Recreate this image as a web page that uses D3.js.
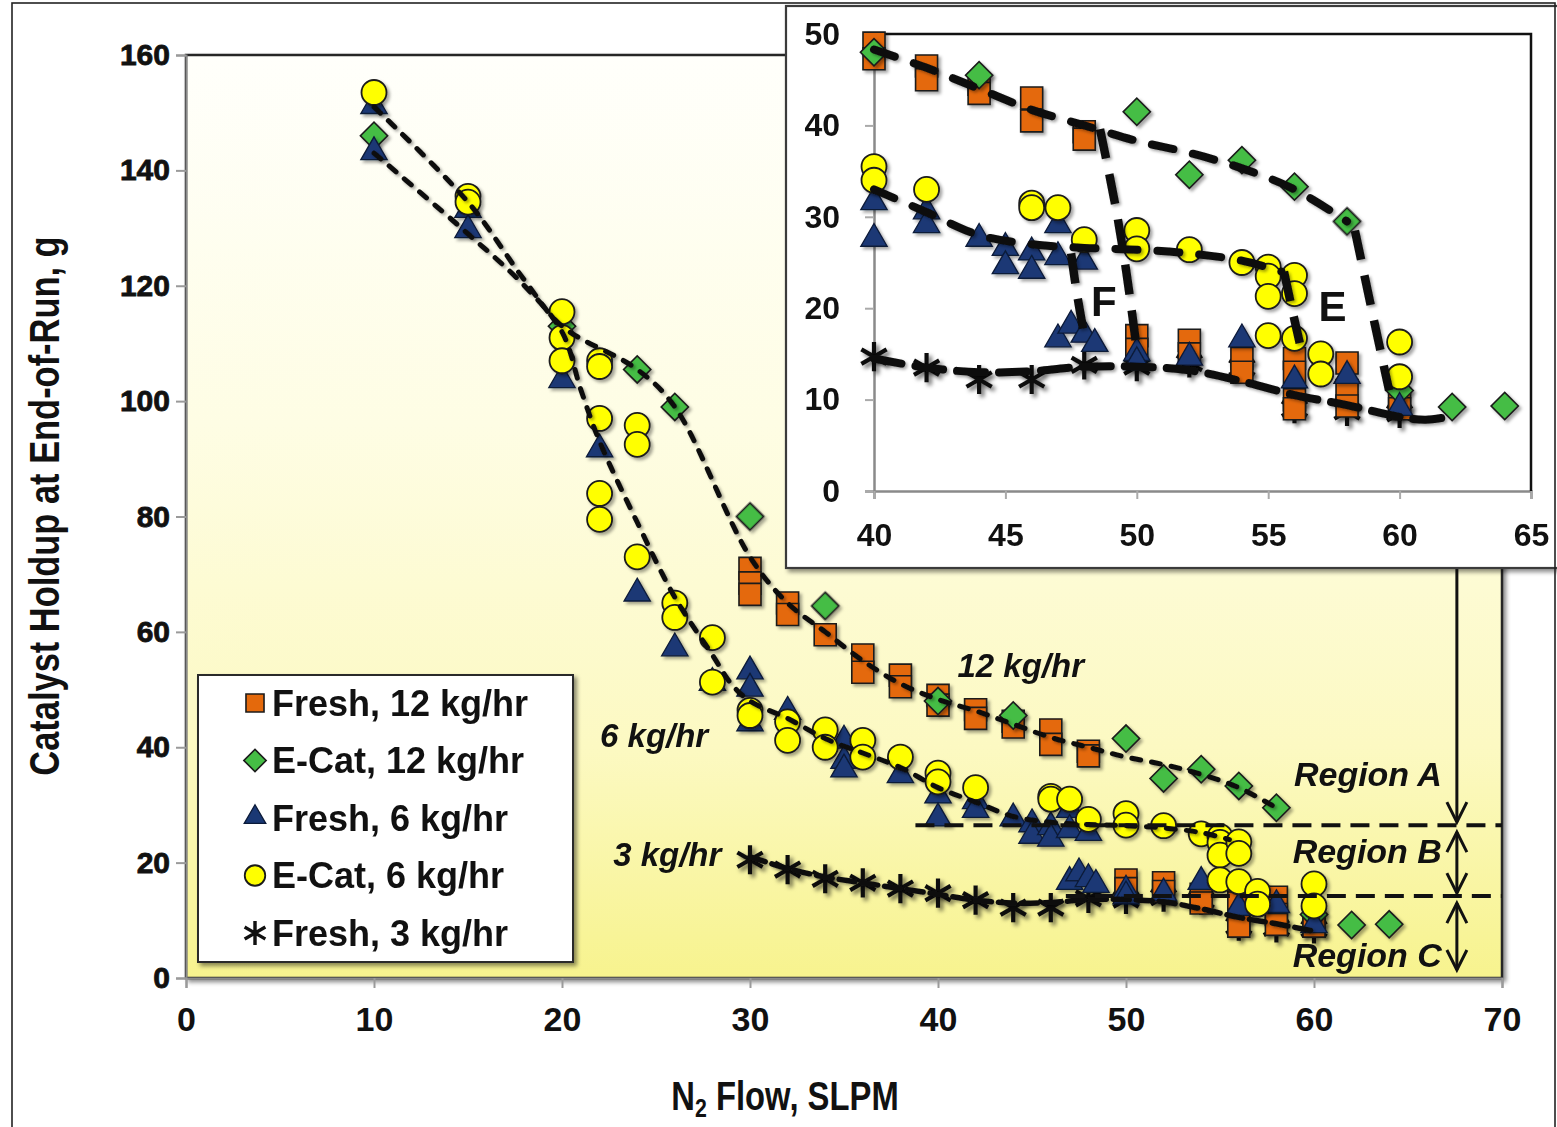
<!DOCTYPE html>
<html>
<head>
<meta charset="utf-8">
<script src="https://cdn.jsdelivr.net/npm/d3@7"></script>
<style>
  html, body { margin: 0; padding: 0; background: #fff; }
  svg { display: block; font-family: "Liberation Sans", Arial, Helvetica, sans-serif; }
</style>
</head>
<body>
<svg id="chart" width="1557" height="1127"></svg>
<script>
// ---- measured holdup, [N2 flow (SLPM), catalyst holdup (g)] ----
const fresh12 = [
  [30,71],[30,68.5],[30,66.5],[32,65],[32,63],[34,59.5],[36,56],[36,53],[38,52.5],[38,50.5],
  [40,49],[40,47.3],[42,46.5],[42,45],[44,44.5],[44,43.5],[46,43],[46,40.5],[48,39.3],[48,38.5],
  [50,17],[50,15.5],[52,16.5],[52,15],[54,14.5],[54,13],[56,14.5],[56,13],[56,10],[56,9],
  [58,14],[58,11],[58,9.3],[60,10],[60,9]
];
const ecat12 = [
  [10,146],[20,113],[24,105.5],[26,99],[30,80],[34,64.5],[40,48],[44,45.5],[50,41.5],
  [52,34.6],[54,36.2],[56,33.3],[58,29.5],[60,11],[62,9.2],[64,9.3]
];
const fresh6 = [
  [10,151],[10,143],[15,133],[15,129.5],[20,103.5],[22,91.5],[24,66.5],[26,57],[28,51],
  [30,53],[30,50],[30,44],[32,46],[35,41],[35,37.5],[35,36],[38,35],[40,31.5],[40,27.5],
  [42,30.5],[42,29],[44,27.5],[45,26.5],[45,24.5],[46,26],[46,24],[47,29],[47,25.5],
  [47,16.5],[47.5,18],[48,25],[48,17],[48.4,16],[50,15],[50,14],[52,14.5],[54,16.5],
  [56,12],[58,12.5],[60,9]
];
const ecat6 = [
  [10,153.5],[15,135.5],[15,134.5],[20,115.5],[20,111],[20,107],[22,107],[22,106],[22,97],
  [22,84],[22,79.5],[24,95.8],[24,92.5],[24,73],[26,65],[26,62.5],[28,59],[28,51.3],
  [30,46.4],[30,45.5],[32,44.4],[32,41.2],[34,43],[34,40],[36,41.2],[36,38.3],[38,38.3],
  [40,35.5],[40,34],[42,33],[46,31.5],[46,31],[47,31],[48,27.5],[50,28.5],[50,26.5],
  [52,26.4],[54,25],[55,24.5],[55,23.5],[55,21.3],[55,17],[56,23.6],[56,21.6],[56,16.7],
  [57,15],[57,12.8],[60,16.3],[60,12.5]
];
const fresh3 = [
  [30,20.5],[32,18.8],[34,17.2],[36,16.5],[38,15.5],[40,14.7],[42,13.5],[44,12.2],[46,12.2],
  [48,13.8],[50,13.6],[52,14],[54,13.5],[56,9],[58,8.7],[60,8.5]
];

// ---- hand-fitted trend curves ----
const trend12 = [
  [10,151],[15,134.5],[18,121],[20,113],[24,105.5],[26,99],[30,73],[32,65],[34,60],[36,55],
  [38,51],[40,48.3],[42,46.3],[44,44],[46,41.7],[48,40],[50,38.3],[52,37],[54,35.3],[56,33],[58,29.5]
];
const trend6 = [
  [10,143],[15,129],[18,120],[20,112],[21,102],[22,93],[24,79],[26,66],[28,56],[29,51],[30,48],
  [32,45],[34,41.5],[36,39],[38,36.5],[40,33],[42,30.5],[44,28],[46,27],[48,26.6],[50,26.4],
  [52,26],[54,25.2],[55.5,24]
];
const trend3 = [
  [30,21],[32,19],[34,17.5],[36,16.5],[38,15.5],[40,14.5],[42,13.5],[44,13],[46,13.1],[48,13.6],
  [50,13.6],[52,13.2],[54,12],[56,10.5],[58,9.4],[60,8.1]
];
const trend3Tail = [[60,8.1],[61,7.8],[62,8.2]];
// transitions out of the dense-flow branches (inset detail)
const dropF12 = [[48.6,39.6],[49.2,31],[49.6,24],[50,15.5]];
const dropF6  = [[47.5,26],[47.7,22],[48,17]];
const dropE12 = [[58.3,28.5],[59,19],[59.6,11]];
const dropE6  = [[55.6,24],[55.9,20],[56.2,16.2]];

// ---- axes, labels ----
const xTicks = [0,10,20,30,40,50,60,70];
const yTicks = [0,20,40,60,80,100,120,140,160];
const insetXTicks = [40,45,50,55,60,65];
const insetYTicks = [0,10,20,30,40,50];
const legendLabels = ["Fresh, 12 kg/hr","E-Cat, 12 kg/hr","Fresh, 6 kg/hr","E-Cat, 6 kg/hr","Fresh, 3 kg/hr"];
const regionBounds = [26.5, 14.2];
const regionLabels = ["Region A","Region B","Region C"];
const rateLabels = [
  {text:"12 kg/hr", at:[44.4,52.2]},
  {text:"6 kg/hr",  at:[24.9,40.0]},
  {text:"3 kg/hr",  at:[25.6,19.4]}
];
const branchLabels = [{text:"F", at:[48.75,19.2]},{text:"E", at:[57.45,18.6]}];

// ---------------------------------------------------------------
const svg = d3.select("#chart");
const defs = svg.append("defs");

const grad = defs.append("linearGradient").attr("id","plotBg")
  .attr("x1",0).attr("y1",0).attr("x2",0).attr("y2",1);
[[0,"#fffffb"],[0.4,"#fefde4"],[0.75,"#fcf9c2"],[1,"#f7f38e"]].forEach(([o,c]) =>
  grad.append("stop").attr("offset",o).attr("stop-color",c));

function addShadow(id, dx, dy, sd, op) {
  defs.append("filter").attr("id",id)
    .attr("x","-50%").attr("y","-50%").attr("width","200%").attr("height","200%")
    .append("feDropShadow").attr("dx",dx).attr("dy",dy)
    .attr("stdDeviation",sd).attr("flood-color","#000").attr("flood-opacity",op);
}
addShadow("mkShadow", 2.5, 2.5, 1.8, 0.35);
addShadow("starShadow", 3, 3, 2.2, 0.6);
addShadow("boxShadow", 3, 3, 2, 0.45);
addShadow("lineShadow", 2, 2, 1.5, 0.35);

// ---- scales ----
const x = d3.scaleLinear().domain([0,70]).range([186,1502]);
const y = d3.scaleLinear().domain([0,160]).range([978,55]);
const xi = d3.scaleLinear().domain([40,65]).range([874,1531]);
const yi = d3.scaleLinear().domain([0,50]).range([491,34]);

// ---- marker definitions ----
const series = [
  {key:"fresh3",  data:fresh3,  type:"star"},
  {key:"fresh12", data:fresh12, type:"square"},
  {key:"ecat12",  data:ecat12,  type:"diamond"},
  {key:"fresh6",  data:fresh6,  type:"triangle"},
  {key:"ecat6",   data:ecat6,   type:"circle"}
];
const legendOrder = ["square","diamond","triangle","circle","star"];

const asteriskType = d3.symbolAsterisk || {
  draw(ctx, size) {
    const r = Math.sqrt(size) * 0.6;
    ctx.moveTo(0,-r); ctx.lineTo(0,r);
    const a = r*Math.cos(Math.PI/6), b = r*Math.sin(Math.PI/6);
    ctx.moveTo(-a,-b); ctx.lineTo(a,b); ctx.moveTo(-a,b); ctx.lineTo(a,-b);
  }
};

function drawMarker(sel, type, k) {
  k = k || 1;
  if (type === "square") {
    sel.append("path").attr("d", d3.symbol(d3.symbolSquare, 22*22*k*k)())
      .attr("fill","#e4690c").attr("stroke","#1b1b1b").attr("stroke-width",1.6);
  } else if (type === "diamond") {
    sel.append("path").attr("d", d3.symbol(d3.symbolSquare, 370*k*k)())
      .attr("transform","rotate(45)")
      .attr("fill","#45bd45").attr("stroke","#1b1b1b").attr("stroke-width",1.6);
  } else if (type === "triangle") {
    sel.append("path").attr("d", d3.symbol(d3.symbolTriangle, 300*k*k)())
      .attr("transform", `translate(0,${-1*k})`)
      .attr("fill","#1a3874").attr("stroke","#0b1a38").attr("stroke-width",1.3);
  } else if (type === "circle") {
    sel.append("path").attr("d", d3.symbol(d3.symbolCircle, Math.PI*12.5*12.5*k*k)())
      .attr("fill","#ffff00").attr("stroke","#1b1b1b").attr("stroke-width",1.8);
  } else if (type === "star") {
    sel.append("path").attr("d", d3.symbol(asteriskType, 440*k*k)())
      .attr("fill","none").attr("stroke","#111").attr("stroke-width",4.2*Math.max(k,0.8))
      .attr("stroke-linecap","square");
  }
}

function drawSeries(g, xs, ys, filterFn) {
  series.forEach(s => {
    const pts = s.data.filter(filterFn);
    g.append("g").attr("class", s.key)
      .attr("filter", s.type === "star" ? "url(#starShadow)" : "url(#mkShadow)")
      .selectAll("g").data(pts).join("g")
      .attr("transform", d => `translate(${xs(d[0])},${ys(d[1])})`)
      .each(function() { drawMarker(d3.select(this), s.type, 1); });
  });
}

// ---- main plot area ----
const main = svg.append("g");
main.append("rect")
  .attr("x", x(0)).attr("y", y(160)).attr("width", x(70)-x(0)).attr("height", y(0)-y(160))
  .attr("fill","url(#plotBg)").attr("stroke","#262626").attr("stroke-width",2.5)
  .attr("filter","url(#boxShadow)");

// axes
const yAxis = main.append("g").attr("transform",`translate(${x(0)},0)`)
  .call(d3.axisLeft(y).tickValues(yTicks).tickSize(10).tickPadding(6));
const xAxis = main.append("g").attr("transform",`translate(0,${y(0)})`)
  .call(d3.axisBottom(x).tickValues(xTicks).tickSize(10).tickPadding(19));
[yAxis, xAxis].forEach(a => {
  a.select(".domain").attr("stroke","#8a8a8a").attr("stroke-width",2);
  a.selectAll(".tick line").attr("stroke","#9a9a9a").attr("stroke-width",2);
  a.selectAll(".tick text").attr("fill","#111").attr("font-weight","bold")
    .attr("font-family","'Liberation Sans', Arial, sans-serif");
});
yAxis.selectAll(".tick text").attr("font-size",30).attr("stroke","#111").attr("stroke-width",0.8);
xAxis.selectAll(".tick text").attr("font-size",34);

// markers
drawSeries(main.append("g"), x, y, () => true);

// trend lines
const lineMain = d3.line().x(d => x(d[0])).y(d => y(d[1])).curve(d3.curveCatmullRom.alpha(0.5));
const trendsMain = main.append("g").attr("fill","none").attr("stroke","#111")
  .attr("filter","url(#lineShadow)");
[trend12, trend6].forEach(t => trendsMain.append("path").attr("d", lineMain(t))
  .attr("stroke-width",5).attr("stroke-dasharray","9 11").attr("stroke-linecap","round"));
trendsMain.append("path").attr("d", lineMain(trend3))
  .attr("stroke-width",5.5).attr("stroke-dasharray","16 7").attr("stroke-linecap","round");

// region boundaries
const arrowX = x(67.6);
const regionStart = [38.8, 46.8];
regionBounds.forEach((v, i) => {
  main.append("line")
    .attr("x1", x(regionStart[i])).attr("x2", x(70))
    .attr("y1", y(v)).attr("y2", y(v))
    .attr("stroke","#111").attr("stroke-width",4).attr("stroke-dasharray","19 10");
});

// rate annotations
rateLabels.forEach(r => {
  main.append("text").attr("x", x(r.at[0])).attr("y", y(r.at[1]))
    .attr("text-anchor","middle").attr("font-size",33).attr("font-weight","bold")
    .attr("font-style","italic").attr("fill","#111").text(r.text);
});

// ---- region arrows ----
const insetBottom = 568;
const arrows = main.append("g").attr("stroke","#111").attr("stroke-width",3).attr("fill","none");
function head(xc, tipY, dir) {
  // dir = +1 pointing down, -1 pointing up
  arrows.append("path")
    .attr("d", `M${xc-10},${tipY - dir*20} L${xc},${tipY} L${xc+10},${tipY - dir*20}`);
}
const yA = y(regionBounds[0]), yB = y(regionBounds[1]), yZ = y(0);
arrows.append("line").attr("x1",arrowX).attr("x2",arrowX).attr("y1",insetBottom).attr("y2",yA-3);
head(arrowX, yA-3, 1);
arrows.append("line").attr("x1",arrowX).attr("x2",arrowX).attr("y1",yA+7).attr("y2",yB-3);
head(arrowX, yA+7, -1); head(arrowX, yB-3, 1);
arrows.append("line").attr("x1",arrowX).attr("x2",arrowX).attr("y1",yB+7).attr("y2",yZ-8);
head(arrowX, yB+7, -1); head(arrowX, yZ-8, 1);

const regionBase = [yA - 39, yB - 33, yZ - 11];
regionLabels.forEach((t, i) => {
  main.append("text").attr("x", arrowX - 15).attr("y", regionBase[i])
    .attr("text-anchor","end").attr("font-size",34).attr("font-weight","bold")
    .attr("font-style","italic").attr("fill","#111").text(t);
});

// ---- legend ----
const lg = svg.append("g").attr("transform","translate(198,675)");
lg.append("rect").attr("width",375).attr("height",287)
  .attr("fill","#fff").attr("stroke","#2a2a2a").attr("stroke-width",2)
  .attr("filter","url(#boxShadow)");
legendLabels.forEach((label, i) => {
  const row = lg.append("g").attr("transform",`translate(0,${28 + i*57.5})`);
  const m = row.append("g").attr("transform","translate(57,0)");
  drawMarker(m, legendOrder[i], 0.82);
  row.append("text").attr("x",74).attr("y",0).attr("dy","0.36em")
    .attr("font-size",36).attr("font-weight","bold").attr("fill","#111").text(label);
});

// ---- axis titles ----
svg.append("text")
  .attr("transform","translate(44,506) rotate(-90) scale(0.82,1)")
  .attr("text-anchor","middle").attr("dy","0.36em")
  .attr("font-size",42).attr("font-weight","bold").attr("fill","#111")
  .text("Catalyst Holdup at End-of-Run, g");

const xt = svg.append("text")
  .attr("transform","translate(785,1110) scale(0.82,1)")
  .attr("text-anchor","middle").attr("font-size",40).attr("font-weight","bold").attr("fill","#111");
xt.append("tspan").text("N");
xt.append("tspan").attr("font-size",26).attr("dy",7).text("2");
xt.append("tspan").attr("dy",-7).text(" Flow, SLPM");

// ---- inset: detail of the 40-65 SLPM range ----
const inset = svg.append("g");
inset.append("rect").attr("x",786).attr("y",6).attr("width",800).attr("height",562)
  .attr("fill","#fff").attr("stroke","#3a3a3a").attr("stroke-width",2.2)
  .attr("filter","url(#boxShadow)");

const iyAxis = inset.append("g").attr("transform",`translate(${xi(40)},0)`)
  .call(d3.axisLeft(yi).tickValues(insetYTicks).tickSize(9).tickPadding(25));
const ixAxis = inset.append("g").attr("transform",`translate(0,${yi(0)})`)
  .call(d3.axisBottom(xi).tickValues(insetXTicks).tickSize(8).tickPadding(24));
[iyAxis, ixAxis].forEach(a => {
  a.select(".domain").attr("stroke","#8a8a8a").attr("stroke-width",2.5);
  a.selectAll(".tick line").attr("stroke","#aaa").attr("stroke-width",2);
  a.selectAll(".tick text").attr("fill","#111").attr("font-weight","bold").attr("font-size",32)
    .attr("font-family","'Liberation Sans', Arial, sans-serif");
});
// upper and right frame of the inset plot
inset.append("path")
  .attr("d", `M${xi(40)},${yi(50)} H${xi(65)} V${yi(0)}`)
  .attr("fill","none").attr("stroke","#111").attr("stroke-width",2.5);

drawSeries(inset.append("g"), xi, yi, d => d[0] >= 40 && d[1] <= 50);

const lineInset = d3.line().x(d => xi(d[0])).y(d => yi(d[1])).curve(d3.curveCatmullRom.alpha(0.5));
const trendsInset = inset.append("g").attr("fill","none").attr("stroke","#0d0d0d")
  .attr("filter","url(#lineShadow)");
const inRange = t => t.filter(d => d[0] >= 40);
[inRange(trend12), inRange(trend6)].forEach(t => trendsInset.append("path").attr("d", lineInset(t))
  .attr("stroke-width",8).attr("stroke-dasharray","22 20").attr("stroke-linecap","round"));
trendsInset.append("path").attr("d", lineInset(inRange(trend3).concat(trend3Tail.slice(1))))
  .attr("stroke-width",8).attr("stroke-dasharray","28 14").attr("stroke-linecap","round");
[dropF12, dropF6, dropE12, dropE6].forEach(t => trendsInset.append("path").attr("d", lineInset(t))
  .attr("stroke-width",8.5).attr("stroke-dasharray","30 16").attr("stroke-linecap","butt"));

branchLabels.forEach(b => {
  inset.append("text").attr("x", xi(b.at[0])).attr("y", yi(b.at[1]))
    .attr("text-anchor","middle").attr("font-size",42).attr("font-weight","bold")
    .attr("fill","#111").text(b.text);
});

// ---- outer frame ----
svg.append("rect").attr("x",12).attr("y",3).attr("width",1543).attr("height",1150)
  .attr("fill","none").attr("stroke","#222").attr("stroke-width",1.6);
</script>
</body>
</html>
